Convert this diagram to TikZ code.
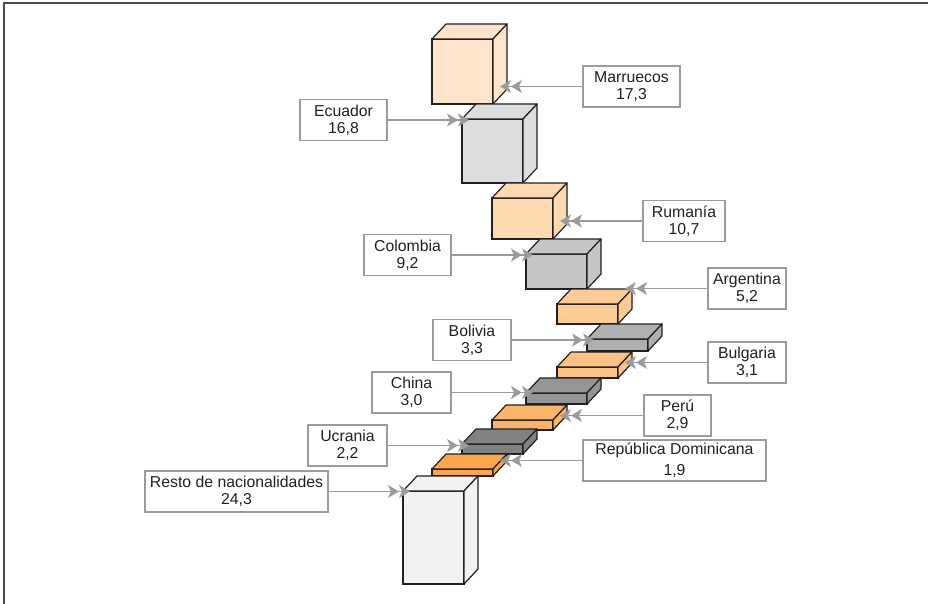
\documentclass[tikz,border=0pt]{standalone}
\usepackage{fontspec}
\setmainfont{Liberation Sans}
\usepackage{xcolor}
\usetikzlibrary{positioning,arrows.meta,calc}

\definecolor{peachA}{HTML}{FDE4CB}
\definecolor{peachB}{HTML}{FDD9B0}
\definecolor{peachC}{HTML}{FDCC96}
\definecolor{peachD}{HTML}{FCC184}
\definecolor{peachE}{HTML}{FBB469}
\definecolor{peachF}{HTML}{F9A64F}
\definecolor{greyA}{HTML}{DCDDDF}
\definecolor{greyB}{HTML}{C5C6C8}
\definecolor{greyC}{HTML}{AEAFB1}
\definecolor{greyD}{HTML}{949597}
\definecolor{greyE}{HTML}{808183}
\definecolor{restgrey}{HTML}{F1F2F3}
\definecolor{arrgrey}{HTML}{9A9B9D}
\definecolor{inkgrey}{HTML}{231F20}

% one block: name, x, y (front top left), width, height, colour
\newcommand{\cuboid}[6]{%
  \node[cubefront, fill=#6, minimum width=#4pt, minimum height=#5pt] (#1) at (#2,#3) {};
  \draw[cubeside, fill=#6] (#1.north west) -- ++(14,-15) -- ++(#4,0) -- (#1.north east) -- cycle;
  \draw[cubeside, fill=#6] (#1.north east) -- ++(14,-15) -- ++(0,#5) -- (#1.south east) -- cycle;
  \coordinate (#1-r) at ([xshift=14pt]#1.east);
}

\begin{document}
\begin{tikzpicture}[x=1pt, y=-1pt,
  cubefront/.style={draw=inkgrey, line width=1.2pt, anchor=north west, inner sep=0pt, outer sep=0pt},
  cubeside/.style={draw=inkgrey, line width=1.2pt, line join=round},
  lbl/.style={draw=arrgrey, line width=1.3pt, minimum height=41pt, inner sep=0pt, align=center, text=inkgrey,
    font=\fontsize{15.8}{17}\selectfont},
  arr/.style={draw=arrgrey, line width=1.5pt,
    -{Stealth[length=11pt, width=13pt, inset=3pt] Stealth[length=11pt, width=13pt, inset=3pt, sep=-7pt]}}
]
\useasboundingbox (0,0) rectangle (928,604);
\draw[inkgrey!80, line width=2pt] (4,604) -- (4,3) -- (928,3);

% blocks
\cuboid{marr}{432}{39}{61}{65}{peachA}
\cuboid{ecu}{462}{119}{61}{64}{greyA}
\cuboid{rum}{492}{198}{61}{41}{peachB}
\cuboid{col}{526}{254}{61}{35}{greyB}
\cuboid{arg}{557}{304}{61}{20}{peachC}
\cuboid{bol}{587}{339}{61}{12}{greyC}
\cuboid{bul}{557}{367}{61}{11}{peachD}
\cuboid{chi}{526}{393}{61}{11}{greyD}
\cuboid{per}{492}{420}{61}{10}{peachE}
\cuboid{ucr}{462}{444}{61}{10}{greyE}
\cuboid{rep}{432}{469}{61}{7}{peachF}
\cuboid{res}{403}{491}{61}{93}{restgrey}

% labels
\node[lbl, minimum width=97pt] (lmarr) at (631.5,86.5) {Marruecos\\17,3};
\node[lbl, minimum width=87pt] (lecu) at (343.5,120) {Ecuador\\16,8};
\node[lbl, minimum width=82pt] (lrum) at (684,221) {Rumanía\\10,7};
\node[lbl, minimum width=87pt] (lcol) at (407.5,255) {Colombia\\9,2};
\node[lbl, minimum width=78pt] (larg) at (747,288.5) {Argentina\\5,2};
\node[lbl, minimum width=78pt] (lbol) at (472,340) {Bolivia\\3,3};
\node[lbl, minimum width=78pt] (lbul) at (747,362.5) {Bulgaria\\3,1};
\node[lbl, minimum width=79pt] (lchi) at (411.5,392.5) {China\\3,0};
\node[lbl, minimum width=67pt] (lper) at (677.5,415.5) {Perú\\2,9};
\node[lbl, minimum width=79pt] (lucr) at (347.5,445.5) {Ucrania\\2,2};
\node[lbl, minimum width=183pt, font=\fontsize{15.8}{21}\selectfont] (lrep) at (674.5,460.5) {República Dominicana\\1,9};
\node[lbl, minimum width=183pt] (lres) at (236.5,491.5) {Resto de nacionalidades\\24,3};

% arrows
\draw[arr] (lmarr.west) -- (lmarr.west -| marr-r);
\draw[arr] (lecu.east) -- (lecu.east -| ecu.west);
\draw[arr] (lrum.west) -- (lrum.west -| rum-r);
\draw[arr] (lcol.east) -- (lcol.east -| col.west);
\draw[arr] (larg.west) -- (larg.west -| arg-r);
\draw[arr] (lbol.east) -- (lbol.east -| bol.west);
\draw[arr] (lbul.west) -- (lbul.west -| bul-r);
\draw[arr] (lchi.east) -- (lchi.east -| chi.west);
\draw[arr] (lper.west) -- (lper.west -| per-r);
\draw[arr] (lucr.east) -- (lucr.east -| ucr.west);
\draw[arr] (lrep.west) -- (lrep.west -| rep-r);
\draw[arr] (lres.east) -- (lres.east -| res.west);
\end{tikzpicture}
\end{document}
